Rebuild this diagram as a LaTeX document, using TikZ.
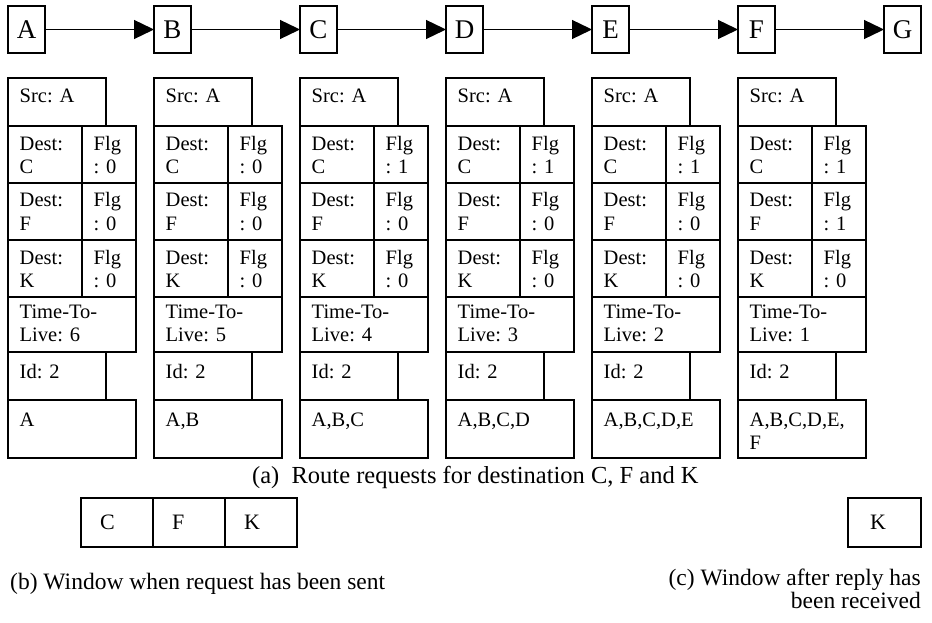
\documentclass[tikz,border=0pt]{standalone}
\usepackage{fontspec}
\setmainfont{Liberation Serif}
\usetikzlibrary{arrows.meta}
\frenchspacing

\begin{document}
\begin{tikzpicture}[
    x=1pt, y=-1pt,
    station/.style={draw, line width=1.2pt, minimum width=37pt, minimum height=47pt,
        inner sep=0pt, outer sep=0pt, font=\fontsize{27}{29}\selectfont},
    hop/.style={line width=1.3pt, -{Triangle[length=20pt, width=19pt]}},
    cell/.style={draw, line width=1.2pt, inner sep=0pt, outer sep=0pt, anchor=north west},
    celltext/.style={anchor=base west, inner sep=0pt, text width=120pt, align=left,
        font=\fontsize{20.5}{23.5}\selectfont},
    wintext/.style={anchor=west, inner sep=0pt, font=\fontsize{22}{24}\selectfont},
    caption/.style={inner sep=0pt, font=\fontsize{23.5}{18.5}\selectfont},
]
\useasboundingbox (0,0) rectangle (932,623);

% =============================================================================
% Stations and hops
% =============================================================================
\foreach \n [count=\i from 0] in {A,B,C,D,E,F,G}
    \node[station] (\n) at ({26.5+146*\i},29.5) {\n};

\foreach \a/\b in {A/B,B/C,C/D,D/E,E/F,F/G}
    \draw[hop] (\a) -- (\b);

% =============================================================================
% Route request packet at each hop
% =============================================================================
\foreach \i/\fc/\ff/\fk/\ttl/\route in {0/0/0/0/6/A, 1/0/0/0/5/{A,B},
        2/1/0/0/4/{A,B,C}, 3/1/0/0/3/{A,B,C,D}, 4/1/0/0/2/{A,B,C,D,E},
        5/1/1/0/1/{A,B,C,D,E,\\F}} {
\begin{scope}[shift={(146*\i,0)}]

    % --- Source ---
    \node[cell, minimum width=98pt, minimum height=48pt] (src\i) at (8,78) {};
    \node[celltext] (srctxt\i) at (19.5,103) {Src: A};

    % --- Destinations and flags ---
    \foreach \d/\f [count=\r from 0] in {C/\fc, F/\ff, K/\fk} {
        \node[cell, minimum width=74pt, minimum height=57pt] (dest\i\d) at (8,{126+57*\r}) {};
        \node[cell, minimum width=54pt, minimum height=57pt] (flg\i\d) at (82,{126+57*\r}) {};
        \node[celltext] (desttxt\i\d) at (19.5,{150+57*\r}) {Dest:\\\d};
        \node[celltext] (flgtxt\i\d) at (93.5,{150+57*\r}) {Flg\\: \f};
    }

    % --- Time-To-Live, id and route ---
    \node[cell, minimum width=128pt, minimum height=55pt] (ttl\i) at (8,297) {};
    \node[celltext] (ttltxt\i) at (19.5,318) {Time-To-\\Live: \ttl};
    \node[cell, minimum width=98pt, minimum height=48pt] (id\i) at (8,352) {};
    \node[celltext] (idtxt\i) at (19.5,378) {Id: 2};
    \node[cell, minimum width=128pt, minimum height=58pt] (route\i) at (8,400) {};
    \node[celltext] (routetxt\i) at (19.5,426) {\route};

\end{scope}
}

\node[caption, anchor=base west, font=\fontsize{24.5}{26}\selectfont] (capa) at (252,483)
    {(a)\ \ Route requests for destination C, F and K};

% =============================================================================
% Windows
% =============================================================================
\foreach \w [count=\j from 0] in {C,F,K} {
    \node[cell, minimum width=72pt, minimum height=49pt] (win\w) at ({81+72*\j},498) {};
    \node[wintext] (wintxt\w) at ({100+72*\j},522.5) {\w};
}
\node[cell, minimum width=73pt, minimum height=49pt] (winlast) at (848,498) {};
\node[wintext] (winlasttxt) at (870,522.5) {K};

\node[caption, anchor=base west] (capb) at (10,589)
    {(b) Window when request has been sent};
\node[caption, anchor=base east, align=right] (capc) at (921,608)
    {(c) Window after reply has\\been received};

\end{tikzpicture}
\end{document}
